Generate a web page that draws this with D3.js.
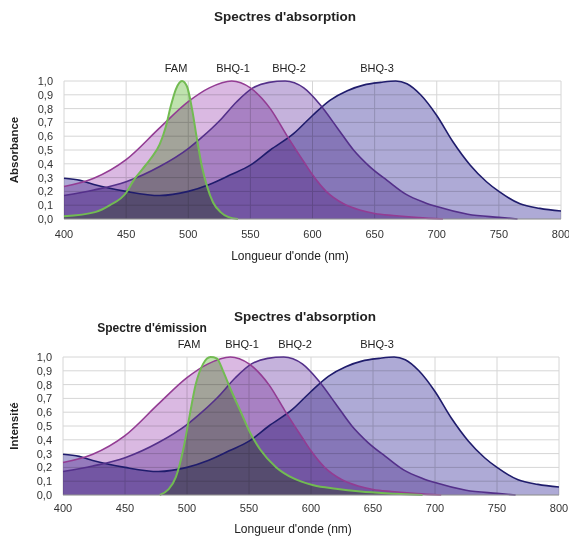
<!DOCTYPE html>
<html>
<head>
<meta charset="utf-8">
<script src="https://cdn.jsdelivr.net/npm/d3@7"></script>
<style>
  body { margin: 0; background: #fff; }
  text { font-family: "Liberation Sans", Arial, sans-serif; fill: #222; }
</style>
</head>
<body>
<div id="plot"></div>
<script>
// wavelength ticks and value ticks
var xTicks = [400, 450, 500, 550, 600, 650, 700, 750, 800];
var yTicks = [0, 0.1, 0.2, 0.3, 0.4, 0.5, 0.6, 0.7, 0.8, 0.9, 1.0];

// [nm, value]
var famAbs = [[400,0.02],[425,0.05],[437,0.10],[450,0.19],[456,0.28],[463,0.36],[470,0.44],[477,0.54],
  [482,0.67],[486,0.82],[490,0.94],[495,1.0],[499,0.96],[503,0.8],[507,0.58],[511,0.38],[515,0.24],
  [520,0.12],[526,0.05],[532,0.015],[540,0]];
var famEm = [[478,0],[485,0.04],[491,0.13],[497,0.33],[502,0.57],[507,0.8],[513,0.95],[519,1.0],[524,0.99],
  [529,0.9],[535,0.77],[543,0.61],[551,0.45],[559,0.33],[572,0.2],[586,0.12],[602,0.07],[620,0.045],
  [640,0.025],[660,0.012],[690,0]];
var bhq1 = [[400,0.235],[424,0.295],[450,0.43],[477,0.66],[500,0.85],[517,0.95],[535,1.0],[550,0.95],
  [566,0.80],[579,0.61],[593,0.415],[600,0.32],[611,0.20],[625,0.11],[638,0.065],[650,0.04],[665,0.025],
  [685,0.01],[705,0]];
var bhq2 = [[400,0.17],[424,0.21],[450,0.27],[477,0.38],[500,0.51],[512,0.6],[525,0.71],[539,0.85],
  [552,0.95],[565,0.99],[578,1.0],[593,0.95],[606,0.83],[620,0.66],[633,0.5],[646,0.38],[660,0.28],
  [675,0.18],[690,0.12],[700,0.09],[725,0.035],[750,0.012],[765,0]];
var bhq3 = [[400,0.295],[413,0.28],[424,0.25],[450,0.20],[477,0.17],[500,0.20],[517,0.25],[534,0.32],
  [550,0.39],[566,0.50],[585,0.62],[600,0.75],[614,0.86],[628,0.93],[641,0.97],[655,0.99],[667,1.0],
  [676,0.98],[687,0.9],[700,0.75],[713,0.56],[727,0.39],[740,0.27],[750,0.20],[767,0.11],[783,0.077],
  [800,0.058]];

var fr = d3.formatLocale({decimal: ",", thousands: " ", grouping: [3], currency: ["", ""]});
var fmt = fr.format(".1f");

var svg = d3.select('#plot').append('svg')
    .attr('width', 569)
    .attr('height', 536);

function drawChart(o) {
    var x = d3.scaleLinear().domain([400, 800]).range([o.l, o.r]);
    var y = d3.scaleLinear().domain([0, 1]).range([o.b, o.t]);
    var g = svg.append('g');

    // grid
    g.selectAll('.vg').data(xTicks).enter().append('line')
        .attr('x1', function(d){ return x(d); }).attr('x2', function(d){ return x(d); })
        .attr('y1', o.t).attr('y2', o.b)
        .style('stroke', '#d6d6d6').style('stroke-width', 1);
    g.selectAll('.hg').data(yTicks).enter().append('line')
        .attr('x1', o.l).attr('x2', o.r)
        .attr('y1', function(d){ return y(d); }).attr('y2', function(d){ return y(d); })
        .style('stroke', '#d6d6d6').style('stroke-width', 1);

    var area = d3.area().curve(d3.curveMonotoneX)
        .x(function(d){ return x(d[0]); })
        .y0(y(0))
        .y1(function(d){ return y(d[1]); });
    var line = d3.line().curve(d3.curveMonotoneX)
        .x(function(d){ return x(d[0]); })
        .y(function(d){ return y(d[1]); });

    // fills overlap like tinted film (multiply)
    var series = [
        {d: bhq3, fill: '#aeaad6', stroke: '#1f1c6c', w: 1.6},
        {d: bhq2, fill: '#c5b2dc', stroke: '#54308a', w: 1.6},
        {d: bhq1, fill: '#dab9e2', stroke: '#933c93', w: 1.6},
        {d: o.fam, fill: '#bfe2ae', stroke: '#72bb52', w: 2}
    ];
    series.forEach(function(s){
        g.append('path').attr('d', area(s.d)).style('fill', s.fill)
            .style('mix-blend-mode', 'multiply');
    });
    series.forEach(function(s){
        g.append('path').attr('d', line(s.d))
            .style('fill', 'none').style('stroke', s.stroke).style('stroke-width', s.w);
    });

    // baseline
    g.append('line').attr('x1', o.l).attr('x2', o.r).attr('y1', o.b).attr('y2', o.b)
        .style('stroke', '#9a9a9a');

    // tick labels
    g.selectAll('.yl').data(yTicks).enter().append('text')
        .attr('x', o.l - 11).attr('y', function(d){ return y(d) + 4; })
        .attr('text-anchor', 'end').style('font-size', '11px').style('fill', '#333')
        .text(function(d){ return fmt(d); });
    g.selectAll('.xl').data(xTicks).enter().append('text')
        .attr('x', function(d){ return x(d); }).attr('y', o.xlY)
        .attr('text-anchor', 'middle').style('font-size', '11px').style('fill', '#333')
        .text(function(d){ return d; });

    // titles
    g.append('text').attr('x', o.titleX).attr('y', o.titleY).attr('text-anchor', 'middle')
        .style('font-size', '13.5px').style('font-weight', 'bold').text("Spectres d'absorption");
    g.append('text').attr('transform', 'translate(' + 18 + ',' + ((o.t + o.b) / 2) + ') rotate(-90)')
        .attr('text-anchor', 'middle').style('font-size', '11.5px').style('font-weight', 'bold')
        .text(o.yTitle);
    g.append('text').attr('x', o.xTitleX).attr('y', o.xTitleY).attr('text-anchor', 'middle')
        .style('font-size', '12px').text("Longueur d'onde (nm)");

    o.labels.forEach(function(lb){
        g.append('text').attr('x', lb[1]).attr('y', o.labelY).attr('text-anchor', 'middle')
            .style('font-size', '11px').text(lb[0]);
    });
    return g;
}

drawChart({l: 64, r: 561, t: 81, b: 219, fam: famAbs, xlY: 238, titleX: 285, titleY: 21,
    yTitle: 'Absorbance', xTitleX: 290, xTitleY: 260, labelY: 72,
    labels: [['FAM', 176], ['BHQ-1', 233], ['BHQ-2', 289], ['BHQ-3', 377]]});

var g2 = drawChart({l: 63, r: 559, t: 357, b: 495, fam: famEm, xlY: 512, titleX: 305, titleY: 321,
    yTitle: 'Intensité', xTitleX: 293, xTitleY: 533, labelY: 348,
    labels: [['FAM', 189], ['BHQ-1', 242], ['BHQ-2', 295], ['BHQ-3', 377]]});
g2.append('text').attr('x', 152).attr('y', 332).attr('text-anchor', 'middle')
    .style('font-size', '12px').style('font-weight', 'bold').text("Spectre d'émission");
</script>
</body>
</html>
